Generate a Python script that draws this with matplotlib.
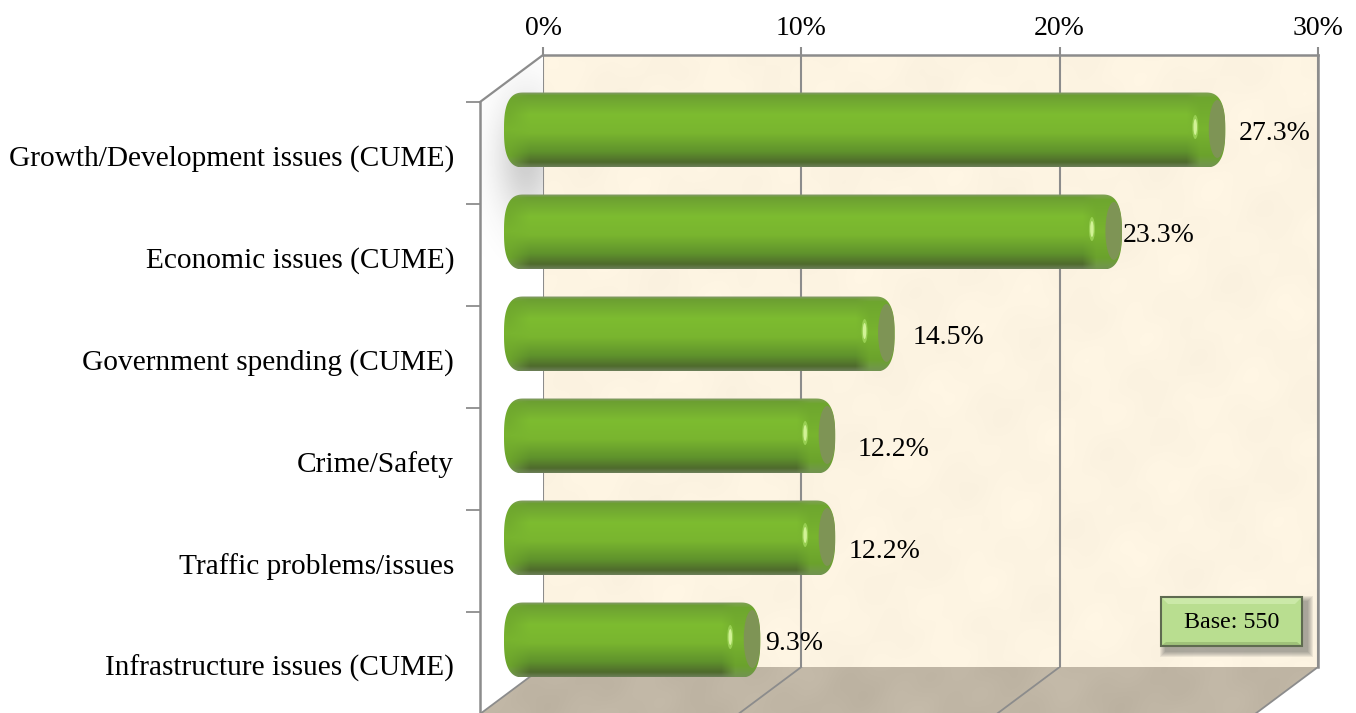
import numpy as np
import matplotlib
matplotlib.use('Agg')
import matplotlib.pyplot as plt
from matplotlib.colors import to_rgb
from matplotlib.patches import Polygon, Ellipse, Rectangle
from matplotlib.ticker import PercentFormatter

# chart values
categories = ['Growth/Development issues (CUME)', 'Economic issues (CUME)', 'Government spending (CUME)',
              'Crime/Safety', 'Traffic problems/issues', 'Infrastructure issues (CUME)']
values = [27.3, 23.3, 14.5, 12.2, 12.2, 9.3]
x_ticks = [0, 10, 20, 30]
base_text = 'Base: 550'

# labels were moved by hand in the original (pixels from the bar tip / bar centre)
label_dx = [13, 1, 18, 22, 13, 5]
label_dy = [3, 3, 3, 13, 13, 4]

W, H = 1356, 713
GREY = '#8c8c8c'
plt.rcParams['font.family'] = ['Liberation Serif', 'DejaVu Serif']

# where the planes of the fake 3d box are, in pixels
WALL = (543, 1318, 55, 667)
FRONT = (480, 1255, 102, 714)
PX = (WALL[1] - WALL[0]) / 30
BARS = (512 - 2 * PX, 1287, 79, 691)


def add_axes(box, zorder):
    a = fig.add_axes([box[0] / W, 1 - box[3] / H, (box[1] - box[0]) / W, (box[3] - box[2]) / H], zorder=zorder)
    a.patch.set_alpha(0)
    return a


def texture(h, w, base, amp):
    # soft mottling from a few sines
    yy, xx = np.mgrid[0:h, 0:w]
    n = (np.sin(xx / 23 + yy / 37) + np.sin(xx / 13 - yy / 19 + 1.3) * 0.8
         + np.sin(xx / 47 + yy / 11 + 0.4) * 0.6 + np.sin((xx + yy) / 7) * 0.3)
    return np.clip((np.array(base)[None, None, :] + amp * n[:, :, None]) / 255, 0, 1)


def ramp(stops, n):
    t = np.linspace(0, 1, n)
    pos = [s[0] for s in stops]
    cols = np.array([to_rgb(s[1]) for s in stops])
    return np.stack([np.interp(t, pos, cols[:, k]) for k in range(3)], axis=1)


body_stops = [(0, '#84996a'), (0.04, '#6c9f32'), (0.3, '#7dbc30'), (0.55, '#79b52f'),
              (0.8, '#5f922c'), (0.94, '#4f6b2d'), (1, '#6a7d55')]
end_stops = [(0, '#80a058'), (0.07, '#6ea62e'), (0.5, '#78b42f'), (0.85, '#6ba22c'), (1, '#729450')]

fig = plt.figure(figsize=(W / 100, H / 100), dpi=100)

# background layer in pixels: floor, side wall shadow
bg = fig.add_axes([0, 0, 1, 1], zorder=0)
bg.set_xlim(0, W)
bg.set_ylim(H, 0)
bg.axis('off')

floor = Polygon([(WALL[0], WALL[3]), (WALL[1], WALL[3]), (FRONT[1], FRONT[3]), (FRONT[0], FRONT[3])],
                transform=bg.transData, fc='none', ec='none')
bg.add_patch(floor)
im = bg.imshow(texture(50, 850, (192, 182, 165), 1.8), extent=(470, 1320, 716, 666), aspect='auto', zorder=1)
im.set_clip_path(floor)

side = Polygon([(FRONT[0], FRONT[2]), (WALL[0], WALL[2]), (WALL[0], WALL[3]), (FRONT[0], FRONT[3])],
               transform=bg.transData, fc='none', ec='none')
bg.add_patch(side)
yy, xx = np.mgrid[60:260, 480:544]
blob = np.exp(-((xx - 526) / 30.0) ** 2 - ((yy - 158) / 60.0) ** 2)
shadow = np.zeros(blob.shape + (4,))
shadow[..., :3] = 0.55
shadow[..., 3] = np.clip(blob * 0.42, 0, 1)
im = bg.imshow(shadow, extent=(480, 544, 260, 60), aspect='auto', zorder=1)
im.set_clip_path(side)
bg.set_xlim(0, W)
bg.set_ylim(H, 0)

# floor lines and the edge joining wall and front
for t in x_ticks:
    xp = WALL[0] + t * PX
    bg.plot([xp, xp - 63], [WALL[3], FRONT[3]], color=GREY, lw=1.3, zorder=2)
bg.plot([WALL[0], FRONT[0]], [WALL[2], FRONT[2]], color=GREY, lw=1.6, zorder=2)

# back wall
ax = add_axes(WALL, 1)
ax.imshow(texture(612, 775, (253, 244, 226), 1.0), extent=(0, 30, 0, 1), aspect='auto', zorder=0)
ax.set_xlim(0, 30)
ax.set_ylim(0, 1)
ax.xaxis.tick_top()
ax.set_xticks(x_ticks)
ax.xaxis.set_major_formatter(PercentFormatter(decimals=0))
ax.tick_params(axis='x', labelsize=20, length=6, width=1.5, color=GREY, pad=4)
ax.set_yticks([])
ax.grid(axis='x', color=GREY, lw=1.5)
ax.set_axisbelow(False)
for s in ['left', 'bottom']:
    ax.spines[s].set_visible(False)
for s in ['top', 'right']:
    ax.spines[s].set_color(GREY)
    ax.spines[s].set_linewidth(1.8)

# front plane: left spine, ticks between categories, category labels
front = add_axes(FRONT, 2)
front.set_xlim(0, 30)
front.set_ylim(len(values) - 0.5, -0.5)
front.set_xticks([])
front.set_yticks(np.arange(len(values)) - 0.5)
front.set_yticklabels([])
front.set_yticks(np.arange(len(values)) + 0.02, labels=categories, minor=True)
front.tick_params(axis='y', which='major', length=10, width=1.3, color=GREY)
front.tick_params(axis='y', which='minor', length=0, labelsize=21.2, pad=18.7)
for s in ['top', 'right', 'bottom']:
    front.spines[s].set_visible(False)
front.spines['left'].set_color(GREY)
front.spines['left'].set_linewidth(1.8)

# cylinders
bar_ax = add_axes(BARS, 3)
bar_ax.axis('off')
rows = 102.0
half = 37.5 / rows
th = np.linspace(-np.pi / 2, np.pi / 2, 80)
# squarer than an ellipse, the ends have round shoulders
ex = np.abs(np.cos(th)) ** (2 / 2.7)
ey = np.sign(np.sin(th)) * np.abs(np.sin(th)) ** (2 / 2.7)
for i, v in enumerate(values):
    tip = v + 8 / PX
    left = -8 / PX
    a = 20 / PX
    outline = np.concatenate([
        np.column_stack([tip - a + a * ex, i + half * ey]),
        np.column_stack([left + a - a * ex[::-1], i + half * ey[::-1]]),
    ])
    shape = Polygon(outline, closed=True, fc='none', ec='none', transform=bar_ax.transData)
    bar_ax.add_patch(shape)
    w = int((tip - left) * PX)
    body = ramp(body_stops, 75)[:, None, :]
    end = ramp(end_stops, 75)[:, None, :]
    col = np.arange(w)
    mix = np.clip(np.maximum((col - (w - 40)) / 14.0, (26 - col) / 20.0), 0, 1)[None, :, None]
    img = body * (1 - mix) + end * mix
    im = bar_ax.imshow(img, extent=(left, tip, i + half, i - half), aspect='auto', zorder=2)
    im.set_clip_path(shape)
    face = Ellipse((v, i - 0.01), 17 / PX, 58 / rows, fc='#7e9455', ec='none', zorder=3)
    bar_ax.add_patch(face)
    face.set_clip_path(shape)
    bar_ax.add_patch(Ellipse((tip - 30 / PX, i - 3 / rows), 6 / PX, 24 / rows, fc='#98cf52', ec='none', zorder=3))
    bar_ax.add_patch(Ellipse((tip - 30 / PX, i - 3 / rows), 3.5 / PX, 16 / rows, fc='#d2f296', ec='none', zorder=3))
    bar_ax.annotate('%.1f%%' % v, xy=(tip, i), xytext=(label_dx[i] * 0.72, -label_dy[i] * 0.72),
                    textcoords='offset points', fontsize=20, ha='left', va='center', zorder=5)
bar_ax.set_xlim(-2, 30)
bar_ax.set_ylim(len(values) - 0.5, -0.5)

# base box
top = fig.add_axes([0, 0, 1, 1], zorder=4)
top.set_xlim(0, W)
top.set_ylim(H, 0)
top.axis('off')
bx0, bx1, by0, by1 = 1161, 1302, 597, 646
for k in range(6, 0, -1):
    top.add_patch(Rectangle((bx0 + 5 - k, by0 + 5 - k), bx1 - bx0 + 2 * k, by1 - by0 + 2 * k,
                            fc='#444444', ec='none', alpha=0.09))
top.add_patch(Rectangle((bx0, by0), bx1 - bx0, by1 - by0, fc='#b9de90', ec='none'))
top.add_patch(Polygon([(bx0, by0), (bx1, by0), (bx1 - 7, by0 + 7), (bx0 + 7, by0 + 7)], fc='#cbe9a8', ec='none'))
top.add_patch(Polygon([(bx0, by1), (bx1, by1), (bx1 - 5, by1 - 4), (bx0 + 5, by1 - 4)], fc='#a0c27a', ec='none'))
top.add_patch(Rectangle((bx0, by0), bx1 - bx0, by1 - by0, fc='none', ec='#5f6b50', lw=1.5))
top.text((bx0 + bx1) / 2, (by0 + by1) / 2 + 1, base_text, fontsize=17.3, ha='center', va='center')

fig.savefig('out.png', dpi=100)
